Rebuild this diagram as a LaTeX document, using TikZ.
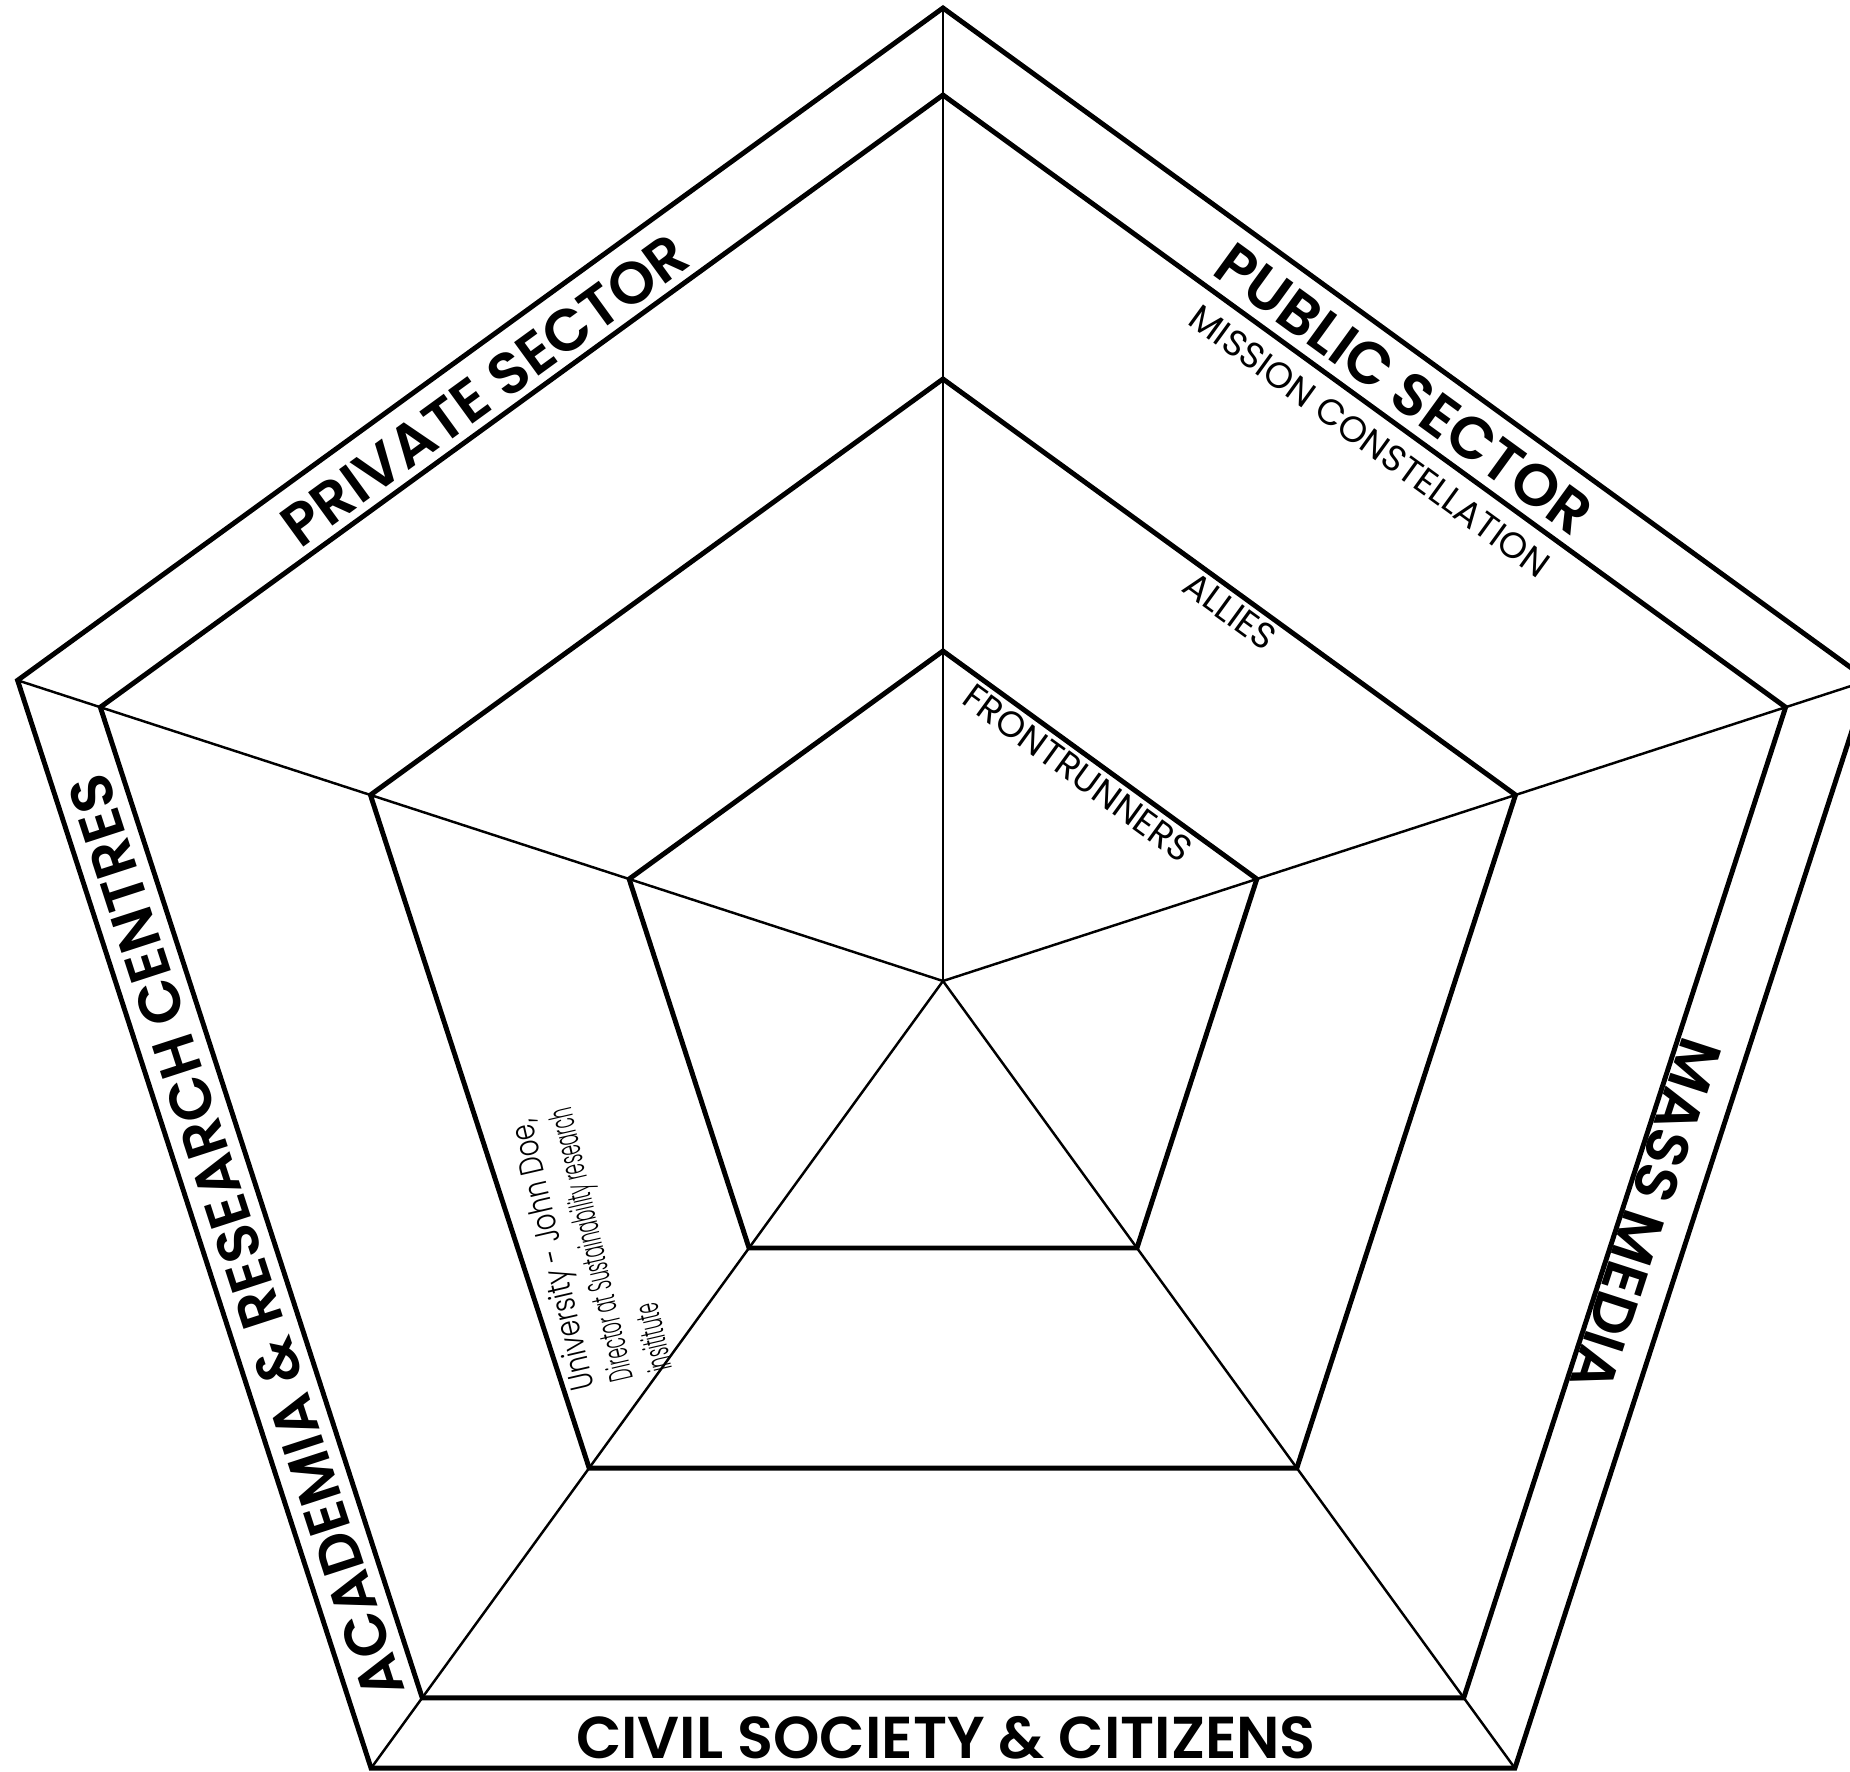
\documentclass[tikz,border=0pt]{standalone}
\usepackage{fontspec}
\setmainfont{Poppins}
\newfontfamily\headfont{Poppins SemiBold}
\newfontfamily\ringfont{Poppins}
\newfontfamily\handfont{Poppins Light}[FakeStretch=0.5]
\newfontfamily\handwidefont{Poppins Light}[FakeStretch=0.78]
\begin{document}
\begin{tikzpicture}[x=0.01cm,y=0.01cm,
  ring/.style={line width=1.4pt,line join=miter},
  spoke/.style={line width=0.7pt},
  sector/.style={font=\headfont\fontsize{16.8}{20}\selectfont,inner sep=0pt},
  ringlabel/.style={font=\ringfont\fontsize{10.3}{12}\selectfont,inner sep=0pt},
  handnote/.style={font=\handfont\fontsize{9.5}{11.5}\selectfont,inner sep=0pt,align=left}]
\useasboundingbox (-943,-790) rectangle (907,981);
\foreach \i/\a in {1/90,2/162,3/234,4/306,5/18}{
  \coordinate (o\i) at (\a:973);
  \coordinate (m\i) at (\a:886);
  \coordinate (a\i) at (\a:602);
  \coordinate (f\i) at (\a:330);
}
\coordinate (c) at (0,0);
\foreach \i in {1,...,5}{\draw[spoke] (c) -- (o\i);}
\draw[ring] (o1)--(o2)--(o3)--(o4)--(o5)--cycle;
\draw[ring] (m1)--(m2)--(m3)--(m4)--(m5)--cycle;
\draw[ring] (a1)--(a2)--(a3)--(a4)--(a5)--cycle;
\draw[ring] (f1)--(f2)--(f3)--(f4)--(f5)--cycle;
\node[sector,rotate=-36] (pub) at (461,592) {PUBLIC SECTOR};
\node[sector,rotate=36] (priv) at (-458,591) {PRIVATE SECTOR};
\node[sector,rotate=108] (acad) at (-707,-256) {ACADEMIA \& RESEARCH CENTRES};
\node[sector,rotate=-108] (mass) at (703,-234) {MASS MEDIA};
\node[sector] (civil) at (3,-757) {CIVIL SOCIETY \& CITIZENS};
\node[ringlabel,rotate=-36] (mission) at (427,540) {MISSION CONSTELLATION};
\node[ringlabel,rotate=-36] (allies) at (287,370) {ALLIES};
\node[ringlabel,rotate=-36] (front) at (135,208) {FRONTRUNNERS};
\node[handnote,rotate=103] (hand) at (-353,-264) {{\handwidefont University - John Doe,}\\Director at Sustainability research\\insititute};
\end{tikzpicture}
\end{document}
